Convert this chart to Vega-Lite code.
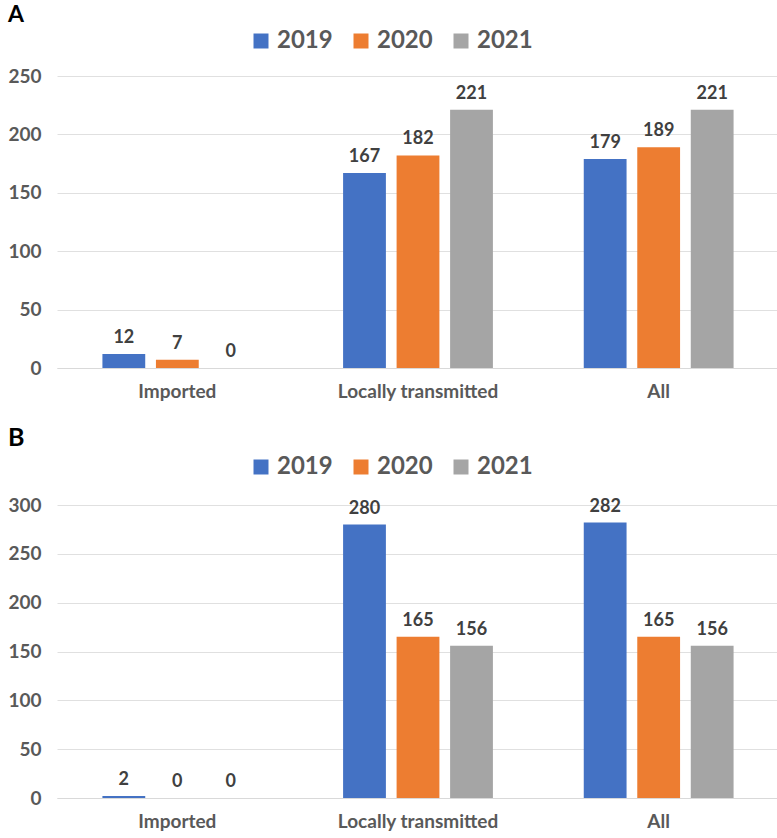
{
  "$schema": "https://vega.github.io/schema/vega-lite/v6.json",
  "background": "white",
  "padding": {"left": 7, "top": 4, "right": 0, "bottom": 0},
  "datasets": {
    "a": [
      {"category": "Imported", "year": "2019", "value": 12},
      {"category": "Imported", "year": "2020", "value": 7},
      {"category": "Imported", "year": "2021", "value": 0},
      {"category": "Locally transmitted", "year": "2019", "value": 167},
      {"category": "Locally transmitted", "year": "2020", "value": 182},
      {"category": "Locally transmitted", "year": "2021", "value": 221},
      {"category": "All", "year": "2019", "value": 179},
      {"category": "All", "year": "2020", "value": 189},
      {"category": "All", "year": "2021", "value": 221}
    ],
    "b": [
      {"category": "Imported", "year": "2019", "value": 2},
      {"category": "Imported", "year": "2020", "value": 0},
      {"category": "Imported", "year": "2021", "value": 0},
      {"category": "Locally transmitted", "year": "2019", "value": 280},
      {"category": "Locally transmitted", "year": "2020", "value": 165},
      {"category": "Locally transmitted", "year": "2021", "value": 156},
      {"category": "All", "year": "2019", "value": 282},
      {"category": "All", "year": "2020", "value": 165},
      {"category": "All", "year": "2021", "value": 156}
    ]
  },
  "config": {
    "font": "Lato",
    "view": {"stroke": null},
    "axis": {"labelFont": "Lato", "labelColor": "#595959", "labelFontWeight": "bold", "labelFontSize": 19},
    "legend": {"labelFont": "Lato"}
  },
  "spacing": 25,
  "resolve": {"scale": {"color": "independent"}, "legend": {"color": "independent"}},
  "vconcat": [
    {
      "title": {"text": "A", "anchor": "start", "frame": "bounds", "fontSize": 23, "fontWeight": "bold", "color": "#000000", "offset": 2},
      "width": 722,
      "height": 292,
      "data": {"name": "a"},
      "encoding": {
        "x": {"field": "category", "type": "nominal", "sort": ["Imported", "Locally transmitted", "All"],
          "scale": {"paddingInner": 0.333, "paddingOuter": 0.1665},
          "axis": {"title": null, "labelAngle": 0, "ticks": false, "domainColor": "#d9d9d9", "labelPadding": 14}},
        "xOffset": {"field": "year", "type": "nominal", "scale": {"paddingInner": 0.2, "paddingOuter": 0.1}},
        "y": {"field": "value", "type": "quantitative", "scale": {"domain": [0, 250]},
          "axis": {"title": null, "values": [0, 50, 100, 150, 200, 250], "domain": false, "ticks": false, "gridColor": "#e0e0e0", "labelPadding": 16}}
      },
      "layer": [
        {
          "mark": {"type": "bar"},
          "encoding": {
            "color": {"field": "year", "type": "nominal",
              "scale": {"domain": ["2019", "2020", "2021"], "range": ["#4472C4", "#ED7D31", "#A5A5A5"]},
              "legend": {"title": null, "orient": "none", "legendX": 192, "legendY": -47, "direction": "horizontal", "labelFontSize": 24, "labelColor": "#595959", "labelFontWeight": "bold", "symbolType": "square", "symbolSize": 225, "symbolStrokeWidth": 0, "columnPadding": 16}}
          }
        },
        {
          "mark": {"type": "text", "dy": -16, "fontSize": 18, "fontWeight": "bold", "color": "#404040"},
          "encoding": {"text": {"field": "value", "type": "quantitative"}}
        }
      ]
    },
    {
      "title": {"text": "B", "anchor": "start", "frame": "bounds", "fontSize": 25, "fontWeight": "bold", "color": "#000000", "offset": 4},
      "width": 722,
      "height": 293,
      "data": {"name": "b"},
      "encoding": {
        "x": {"field": "category", "type": "nominal", "sort": ["Imported", "Locally transmitted", "All"],
          "scale": {"paddingInner": 0.333, "paddingOuter": 0.1665},
          "axis": {"title": null, "labelAngle": 0, "ticks": false, "domainColor": "#d9d9d9", "labelPadding": 14}},
        "xOffset": {"field": "year", "type": "nominal", "scale": {"paddingInner": 0.2, "paddingOuter": 0.1}},
        "y": {"field": "value", "type": "quantitative", "scale": {"domain": [0, 300]},
          "axis": {"title": null, "values": [0, 50, 100, 150, 200, 250, 300], "domain": false, "ticks": false, "gridColor": "#e0e0e0", "labelPadding": 16}}
      },
      "layer": [
        {
          "mark": {"type": "bar"},
          "encoding": {
            "color": {"field": "year", "type": "nominal",
              "scale": {"domain": ["2019", "2020", "2021"], "range": ["#4472C4", "#ED7D31", "#A5A5A5"]},
              "legend": {"title": null, "orient": "none", "legendX": 192, "legendY": -50, "direction": "horizontal", "labelFontSize": 24, "labelColor": "#595959", "labelFontWeight": "bold", "symbolType": "square", "symbolSize": 225, "symbolStrokeWidth": 0, "columnPadding": 16}}
          }
        },
        {
          "mark": {"type": "text", "dy": -16, "fontSize": 18, "fontWeight": "bold", "color": "#404040"},
          "encoding": {"text": {"field": "value", "type": "quantitative"}}
        }
      ]
    }
  ]
}
